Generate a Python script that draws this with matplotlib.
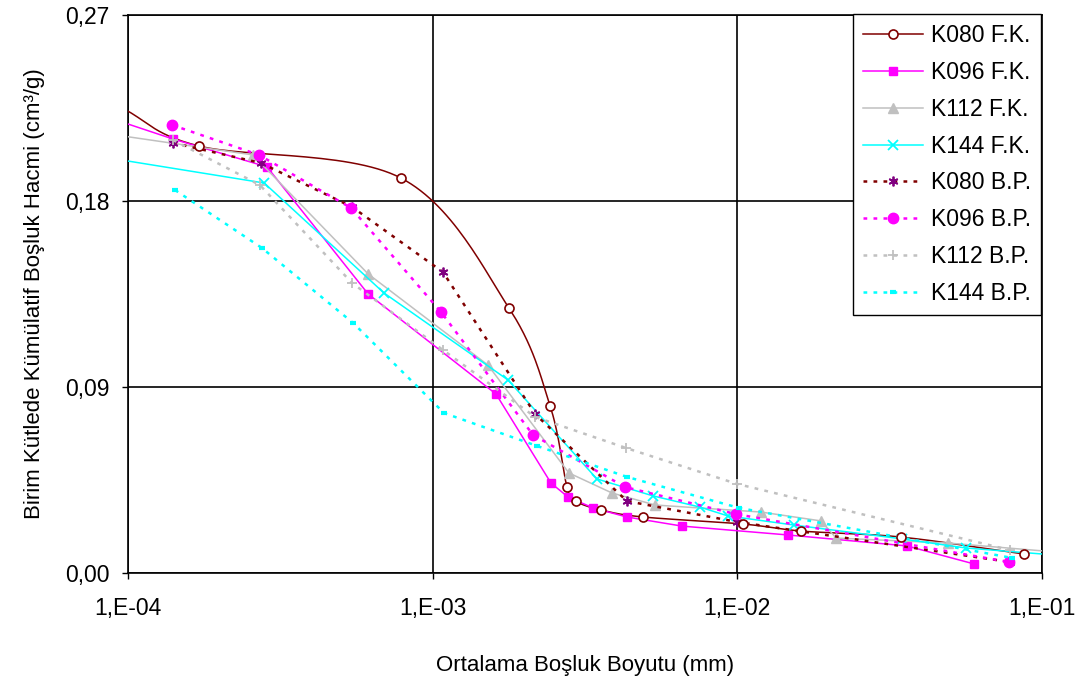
import numpy as np
import matplotlib
matplotlib.use("Agg")
import matplotlib.pyplot as plt
from matplotlib.ticker import FixedLocator, NullLocator

plt.rcParams["font.family"] = ["Liberation Sans", "DejaVu Sans"]

# pore size (mm) and cumulative pore volume (cm3/g), per sample
k080_fk_x = [9.56e-5, 1.71e-4, 7.87e-4, 1.78e-3, 2.43e-3, 2.76e-3, 2.95e-3, 3.57e-3,
             4.90e-3, 1.044e-2, 1.62e-2, 3.44e-2, 8.73e-2]
k080_fk_y = [0.2250, 0.2066, 0.1911, 0.1282, 0.0808, 0.0416, 0.0348, 0.0305,
             0.0271, 0.0237, 0.0203, 0.0174, 0.0092]

k096_fk_x = [9.56e-5, 1.405e-4, 2.86e-4, 6.14e-4, 1.614e-3, 2.446e-3, 2.78e-3, 3.36e-3,
             4.34e-3, 6.58e-3, 1.466e-2, 3.60e-2, 5.98e-2]
k096_fk_y = [0.2182, 0.2100, 0.1965, 0.1350, 0.0866, 0.0435, 0.0368, 0.0315,
             0.0271, 0.0227, 0.0184, 0.0131, 0.0044]

k112_fk_x = [9.56e-5, 2.57e-4, 6.14e-4, 1.519e-3, 2.80e-3, 3.88e-3, 5.37e-3, 1.196e-2,
             1.883e-2, 2.11e-2, 4.91e-2, 1.103e-1]
k112_fk_y = [0.2115, 0.2023, 0.1447, 0.1006, 0.0484, 0.0387, 0.0329, 0.0295,
             0.0252, 0.0169, 0.0145, 0.0102]

k144_fk_x = [9.56e-5, 2.80e-4, 6.92e-4, 1.767e-3, 3.46e-3, 5.29e-3, 7.54e-3, 9.32e-3,
             1.535e-2, 3.47e-2, 5.63e-2, 1.103e-1]
k144_fk_y = [0.1998, 0.1887, 0.1355, 0.0934, 0.0455, 0.0373, 0.0319, 0.0276,
             0.0232, 0.0165, 0.0121, 0.0087]

k080_bp_x = [1.405e-4, 2.73e-4, 5.44e-4, 1.081e-3, 2.17e-3, 4.34e-3, 9.98e-3, 7.85e-2]
k080_bp_y = [0.2081, 0.1984, 0.1771, 0.1456, 0.0769, 0.0348, 0.0247, 0.0053]

k096_bp_x = [1.394e-4, 2.69e-4, 5.40e-4, 1.065e-3, 2.135e-3, 4.28e-3, 9.90e-3, 7.79e-2]
k096_bp_y = [0.2168, 0.2023, 0.1766, 0.1263, 0.0668, 0.0416, 0.0285, 0.0053]

k112_bp_x = [1.405e-4, 2.71e-4, 5.44e-4, 1.081e-3, 2.17e-3, 4.31e-3, 9.98e-3, 7.85e-2]
k112_bp_y = [0.2095, 0.1877, 0.1403, 0.1079, 0.0755, 0.0605, 0.0431, 0.0111]

k144_bp_x = [1.427e-4, 2.75e-4, 5.48e-4, 1.09e-3, 2.20e-3, 4.34e-3, 1.013e-2, 7.97e-2]
k144_bp_y = [0.1853, 0.1573, 0.1210, 0.0774, 0.0615, 0.0465, 0.0315, 0.0073]

x_ticks = [1e-4, 1e-3, 1e-2, 1e-1]
x_tick_labels = ["1,E-04", "1,E-03", "1,E-02", "1,E-01"]
y_ticks = [0.0, 0.09, 0.18, 0.27]
y_tick_labels = ["0,00", "0,09", "0,18", "0,27"]


def smooth_curve(xs, ys, n=30):
    # Catmull-Rom spline through the points, built in log10(x) space
    px = np.log10(np.asarray(xs))
    py = np.asarray(ys)
    px = np.concatenate([[2 * px[0] - px[1]], px, [2 * px[-1] - px[-2]]])
    py = np.concatenate([[2 * py[0] - py[1]], py, [2 * py[-1] - py[-2]]])
    out_x, out_y = [], []
    t = np.linspace(0, 1, n, endpoint=False)
    for i in range(1, len(px) - 2):
        h00 = 2 * t**3 - 3 * t**2 + 1
        h10 = t**3 - 2 * t**2 + t
        h01 = -2 * t**3 + 3 * t**2
        h11 = t**3 - t**2
        mx0 = (px[i + 1] - px[i - 1]) / 2
        mx1 = (px[i + 2] - px[i]) / 2
        my0 = (py[i + 1] - py[i - 1]) / 2
        my1 = (py[i + 2] - py[i]) / 2
        out_x.append(h00 * px[i] + h10 * mx0 + h01 * px[i + 1] + h11 * mx1)
        out_y.append(h00 * py[i] + h10 * my0 + h01 * py[i + 1] + h11 * my1)
    out_x.append([px[-2]])
    out_y.append([py[-2]])
    return 10 ** np.concatenate(out_x), np.concatenate(out_y)


fig = plt.figure(figsize=(10.82, 6.77), dpi=100)
ax = fig.add_axes([128 / 1082, 1 - 573 / 677, 914 / 1082, 558 / 677])

solid_lw = 1.1
dot_lw = 1.8
dots = (0, (1.5, 2.5))

# F.K. series (solid lines)
sx, sy = smooth_curve(k080_fk_x, k080_fk_y)
ax.plot(sx, sy, color="#800000", lw=solid_lw, zorder=3)
ax.plot(k080_fk_x, k080_fk_y, ls="none", marker="o", ms=6.5, mfc="white",
        mec="#800000", mew=1.2, zorder=4)
ax.plot([], [], color="#800000", lw=solid_lw, marker="o", ms=6.5, mfc="white",
        mec="#800000", mew=1.2, label="K080 F.K.")

ax.plot(k096_fk_x, k096_fk_y, color="#FF00FF", lw=solid_lw, marker="s", ms=6,
        mec="#FF00FF", zorder=3, label="K096 F.K.")
ax.plot(k112_fk_x, k112_fk_y, color="#C0C0C0", lw=solid_lw, marker="^", ms=7.5,
        mec="#C0C0C0", zorder=3, label="K112 F.K.")
ax.plot(k144_fk_x, k144_fk_y, color="#00FFFF", lw=solid_lw, marker="x", ms=6.5,
        mew=1.3, zorder=3, label="K144 F.K.")

# B.P. series (dotted lines)
ax.plot(k080_bp_x, k080_bp_y, color="#800000", lw=dot_lw, ls=dots, marker=(6, 2, 0),
        ms=7, mec="#800080", mew=1.3, zorder=3, label="K080 B.P.")
ax.plot(k096_bp_x, k096_bp_y, color="#FF00FF", lw=dot_lw, ls=dots, marker="o",
        ms=7.5, mec="#FF00FF", zorder=3, label="K096 B.P.")
ax.plot(k112_bp_x, k112_bp_y, color="#C0C0C0", lw=dot_lw, ls=dots, marker="+",
        ms=6.5, mew=1.3, zorder=3, label="K112 B.P.")
ax.plot(k144_bp_x, k144_bp_y, color="#00FFFF", lw=dot_lw, ls=dots, marker="_",
        ms=4.5, mew=3, zorder=3, label="K144 B.P.")

ax.set_xscale("log")
ax.set_xlim(1e-4, 1e-1)
ax.set_ylim(0, 0.27)
ax.xaxis.set_major_locator(FixedLocator(x_ticks))
ax.xaxis.set_minor_locator(NullLocator())
ax.set_xticklabels(x_tick_labels)
ax.set_yticks(y_ticks)
ax.set_yticklabels(y_tick_labels)
ax.tick_params(axis="both", direction="out", length=4.5, width=1, labelsize=16.5,
               color="black")
ax.tick_params(axis="x", pad=13)
ax.tick_params(axis="y", pad=9)
ax.grid(True, color="black", lw=1.2, zorder=1)
ax.set_axisbelow(True)
for sp in ax.spines.values():
    sp.set_color("black")
    sp.set_linewidth(1.2)

ax.set_xlabel("Ortalama Boşluk Boyutu (mm)", fontsize=16, labelpad=25)
ax.set_ylabel("Birim Kütlede Kümülatif Boşluk Hacmi (cm³/g)", fontsize=16, labelpad=14)

leg = ax.legend(loc="upper right", bbox_to_anchor=(1041 / 1082, 1 - 14 / 677),
                bbox_transform=fig.transFigure, borderaxespad=0, fontsize=16.5,
                frameon=True, fancybox=False, edgecolor="black", framealpha=1,
                handlelength=2.6, handletextpad=0.35, labelspacing=0.6,
                borderpad=0.45)
leg.get_frame().set_linewidth(1.0)
leg.set_zorder(10)

fig.savefig("out.png", dpi=100)
